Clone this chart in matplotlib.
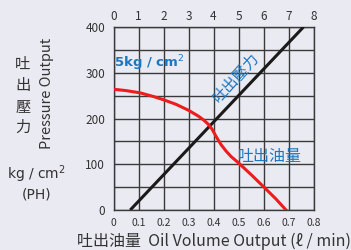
import matplotlib
matplotlib.use("Agg")
import matplotlib.pyplot as plt

plt.rcParams['font.family'] = ['Noto Sans CJK TC', 'DejaVu Sans']

# Data
pressure_line_x = [0.067, 0.76]
pressure_line_y = [0, 400]
flow_x = [0.0, 0.05, 0.107, 0.16, 0.2, 0.25, 0.3, 0.34, 0.36, 0.38, 0.395, 0.41, 0.43, 0.45, 0.47, 0.5, 0.553, 0.6, 0.65, 0.69]
flow_y = [264, 261, 256, 248, 241, 231, 218, 205, 197, 187, 176, 161, 143, 129, 117, 103, 76, 51, 24, 0]
bottom_ticks = [0, 0.1, 0.2, 0.3, 0.4, 0.5, 0.6, 0.7, 0.8]
bottom_labels = ['0', '0.1', '0.2', '0.3', '0.4', '0.5', '0.6', '0.7', '0.8']
top_labels = ['0', '1', '2', '3', '4', '5', '6', '7', '8']
y_ticks = [0, 100, 200, 300, 400]
y_grid = [0, 50, 100, 150, 200, 250, 300, 350, 400]

bg = '#eaeaf3'
blue = '#1a78c2'
txt = '#333333'

fig = plt.figure(figsize=(3.51, 2.5), dpi=100, facecolor=bg)
ax = fig.add_axes([113.5/351, 1-210/250, 200/351, 183/250])
ax.set_facecolor(bg)
ax.set_xlim(0, 0.8)
ax.set_ylim(0, 400)

for gx in bottom_ticks:
    ax.axvline(gx, color='#3a3a3a', lw=1.0, zorder=1)
for gy in y_grid:
    ax.axhline(gy, color='#3a3a3a', lw=1.0, zorder=1)
for s in ax.spines.values():
    s.set_color('#3a3a3a')
    s.set_linewidth(1.0)

ax.plot(pressure_line_x, pressure_line_y, color='#1a1a1a', lw=2.2, zorder=3, solid_capstyle='butt')
ax.plot(flow_x, flow_y, color='#ee1c1c', lw=2.2, zorder=4, solid_joinstyle='round')

ax.set_xticks(bottom_ticks)
ax.set_xticklabels(bottom_labels)
ax.set_yticks(y_ticks)
ax.tick_params(axis='both', length=0, colors=txt)
ax.tick_params(axis='x', labelsize=7.5, pad=6)
ax.tick_params(axis='y', labelsize=8.5, pad=6)

axt = ax.twiny()
axt.set_xlim(0, 8)
axt.set_xticks(range(9))
axt.set_xticklabels(top_labels)
axt.tick_params(axis='x', length=0, colors=txt, labelsize=8.5, pad=3)
for s in axt.spines.values():
    s.set_visible(False)

ax.text(0.003, 320, '5kg / cm$^2$', color=blue, fontsize=9.5, fontweight='bold',
        va='center', ha='left', family=['DejaVu Sans'], zorder=5)
ax.text(0.49, 290, '吐出壓力', color=blue, fontsize=11, rotation=48,
        ha='center', va='center', zorder=5)
ax.text(0.497, 116, '吐出油量', color=blue, fontsize=11.5, ha='left', va='center', zorder=5)

fig.text(23/351, 1-96/250, '吐\n出\n壓\n力', color=txt, fontsize=11, ha='center', va='center', linespacing=1.3)
fig.text(47/351, 1-93/250, 'Pressure Output', color=txt, fontsize=10.5, rotation=90, ha='center', va='center')
fig.text(36/351, 1-174/250, 'kg / cm$^2$', color=txt, fontsize=10, ha='center', va='center', family=['DejaVu Sans'])
fig.text(37/351, 1-195/250, '(PH)', color=txt, fontsize=10, ha='center', va='center', family=['DejaVu Sans'])
fig.text(214/351, 1-241/250, '吐出油量  Oil Volume Output (ℓ / min)', color=txt, fontsize=11.5,
         ha='center', va='center')
fig.text(270/351, 1+8/250, 'Pump Setting (kg / cm)', color=txt, fontsize=9, ha='center', va='center')

fig.savefig('out.png', dpi=100, facecolor=bg)
